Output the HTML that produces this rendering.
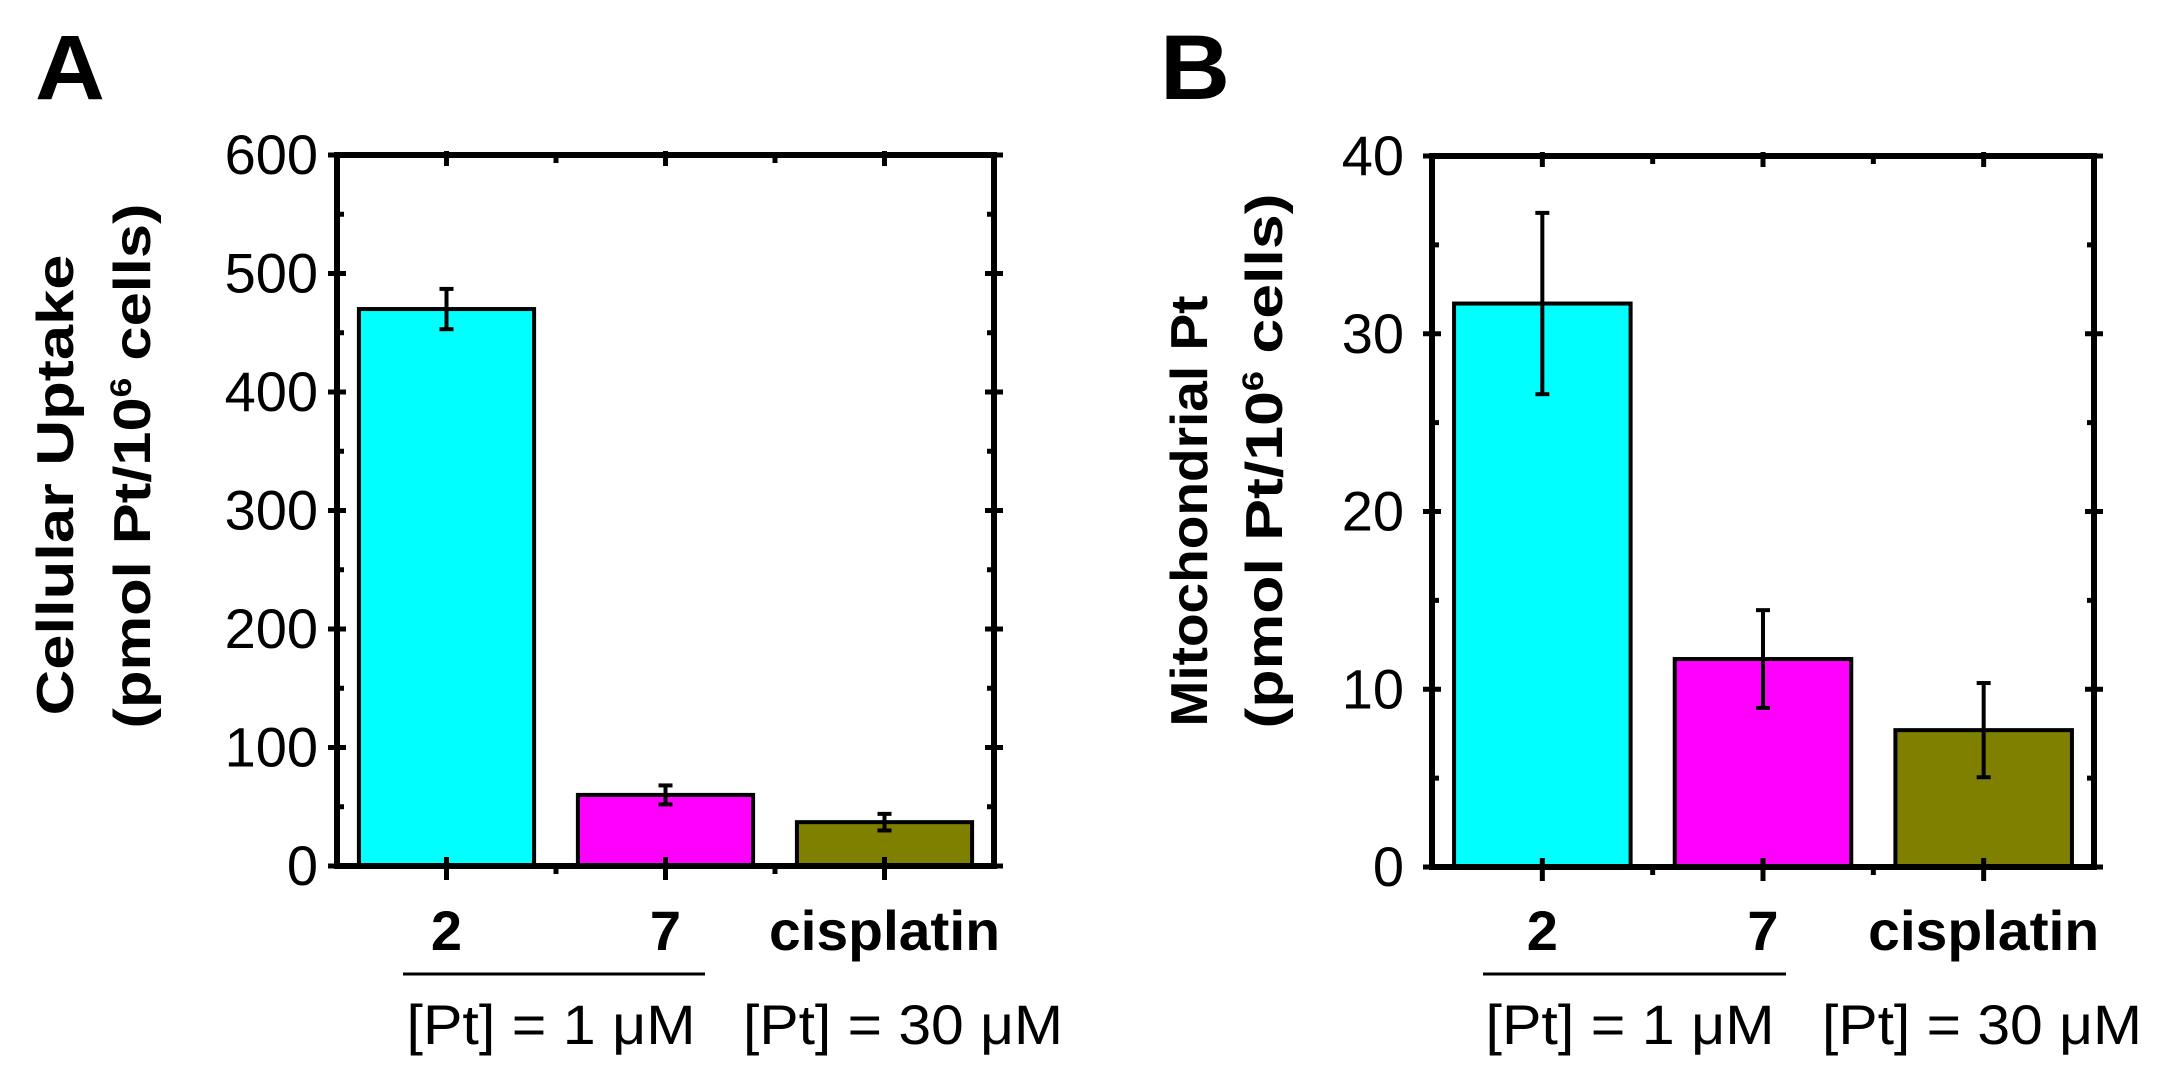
<!DOCTYPE html>
<html><head><meta charset="utf-8"><style>
html,body{margin:0;padding:0;background:#fff;}
svg{display:block;font-family:"Liberation Sans",Arial,sans-serif;}
</style></head><body>
<svg id="fig" width="2158" height="1083" viewBox="0 0 2158 1083"></svg>
<script>
const categories = ["2", "7", "cisplatin"];
const colors = ["#00ffff", "#ff00ff", "#808000"];
const uptakeValues = [470, 60, 37];
const uptakeErrors = [17, 8, 7];
const uptakeTicks = [0, 100, 200, 300, 400, 500, 600];
const mitoValues = [31.7, 11.7, 7.7];
const mitoErrors = [5.1, 2.75, 2.65];
const mitoTicks = [0, 10, 20, 30, 40];

const NS = "http://www.w3.org/2000/svg";
const svg = document.getElementById("fig");
function mk(tag, attrs, parent, text) {
  const e = document.createElementNS(NS, tag);
  for (const k in attrs) e.setAttribute(k, attrs[k]);
  if (text !== undefined) e.textContent = text;
  (parent || svg).appendChild(e);
  return e;
}

function panel(cfg) {
  const g = mk("g", {});
  
  
  const L = cfg.left, R = cfg.right, T = cfg.top, B = cfg.bottom;
  const ymax = cfg.ticks[cfg.ticks.length - 1];
  const y = v => B - (v / ymax) * (B - T);
  const slot = (R - L) / 3;
  const xc = i => L + slot * (i + 0.5);
  const bw = slot * 0.8;

  const letter = mk("text", {x: cfg.letterX, y: 99, "font-size": 92, "font-weight": "bold", textLength: 70, lengthAdjust: "spacingAndGlyphs"}, g, cfg.letter);
  
  

  categories.forEach((c, i) => {
    const v = cfg.values[i];
    const r = mk("rect", {x: xc(i) - bw / 2, y: y(v), width: bw, height: B - y(v), fill: colors[i], stroke: "#000", "stroke-width": 4}, g);
    
    
    const e = cfg.errors[i];
    const eg = mk("g", {stroke: "#000", "stroke-width": 4}, g);
    
    
    mk("line", {x1: xc(i), x2: xc(i), y1: y(v + e), y2: y(v - e)}, eg);
    mk("line", {x1: xc(i) - 7, x2: xc(i) + 7, y1: y(v + e), y2: y(v + e)}, eg);
    mk("line", {x1: xc(i) - 7, x2: xc(i) + 7, y1: y(v - e), y2: y(v - e)}, eg);
  });

  const f = mk("rect", {x: L, y: T, width: R - L, height: B - T, fill: "none", stroke: "#000", "stroke-width": 6}, g);
  
  

  const tg = mk("g", {stroke: "#000", "stroke-width": 5}, g);
  
  
  const step = cfg.ticks[1] - cfg.ticks[0];
  for (let k = 0; k < cfg.ticks.length; k++) {
    const v = cfg.ticks[k];
    mk("line", {x1: L - 9, x2: L + 9, y1: y(v), y2: y(v)}, tg);
    mk("line", {x1: R - 9, x2: R + 9, y1: y(v), y2: y(v)}, tg);
    if (k < cfg.ticks.length - 1) {
      const m = v + step / 2;
      mk("line", {x1: L, x2: L + 7, y1: y(m), y2: y(m)}, tg);
      mk("line", {x1: R - 7, x2: R, y1: y(m), y2: y(m)}, tg);
    }
    const t = mk("text", {x: cfg.labelRight, y: y(v) + 19, "font-size": 56, "text-anchor": "end", stroke: "none"}, g, String(v));
    
    
  }
  for (let i = 0; i < 3; i++) {
    mk("line", {x1: xc(i), x2: xc(i), y1: B - 9, y2: B + 14}, tg);
    mk("line", {x1: xc(i), x2: xc(i), y1: T - 4, y2: T + 11}, tg);
    if (i < 2) {
      mk("line", {x1: L + slot * (i + 1), x2: L + slot * (i + 1), y1: B, y2: B + 8}, tg);
      mk("line", {x1: L + slot * (i + 1), x2: L + slot * (i + 1), y1: T, y2: T + 8}, tg);
    }
    const attrs = {x: xc(i), y: 950, "font-size": 56, "font-weight": "bold", "text-anchor": "middle"};
    if (i === 2) { attrs.textLength = 231; attrs.lengthAdjust = "spacingAndGlyphs"; }
    const t = mk("text", attrs, g, categories[i]);
    
    
  }
  const ln = mk("line", {x1: cfg.lineX1, x2: cfg.lineX2, y1: 974, y2: 974, stroke: "#000", "stroke-width": 3}, g);
  
  
  const c1 = mk("text", {x: cfg.c1x, y: 1044, "font-size": 56, "text-anchor": "middle", textLength: 289, lengthAdjust: "spacingAndGlyphs"}, g, "[Pt] = 1 μM");
  
  
  const c2 = mk("text", {x: cfg.c2x, y: 1044, "font-size": 56, "text-anchor": "middle", textLength: 320, lengthAdjust: "spacingAndGlyphs"}, g, "[Pt] = 30 μM");
  
  

  const yt = mk("text", {transform: `translate(${cfg.titleX1},${cfg.titleY1}) rotate(-90)`, "font-size": 52, "font-weight": "bold", "text-anchor": "middle", textLength: cfg.len1, lengthAdjust: "spacingAndGlyphs"}, g, cfg.title1);
  
  
  const yt2 = mk("text", {transform: `translate(${cfg.titleX2},${cfg.titleY2}) rotate(-90)`, "font-size": 52, "font-weight": "bold", "text-anchor": "middle", textLength: cfg.len2, lengthAdjust: "spacingAndGlyphs"}, g);
  
  
  mk("tspan", {}, yt2, "(pmol Pt/10");
  mk("tspan", {"font-size": 30, dy: -19}, yt2, "6");
  mk("tspan", {dy: 19}, yt2, " cells)");
}

panel({name: "panel-a-cellular-uptake", letter: "A", letterX: 35, left: 337, right: 994, top: 155, bottom: 866,
  ticks: uptakeTicks, values: uptakeValues, errors: uptakeErrors, labelRight: 318,
  lineX1: 403, lineX2: 705, c1x: 551, c2x: 903,
  titleX1: 73, titleY1: 485, len1: 461, titleX2: 150, titleY2: 466, len2: 525, title1: "Cellular Uptake"});
panel({name: "panel-b-mitochondrial-pt", letter: "B", letterX: 1160, left: 1432, right: 2094, top: 156, bottom: 867,
  ticks: mitoTicks, values: mitoValues, errors: mitoErrors, labelRight: 1404,
  lineX1: 1483, lineX2: 1786, c1x: 1630, c2x: 1982,
  titleX1: 1207, titleY1: 511, len1: 431, titleX2: 1282, titleY2: 461, len2: 535, title1: "Mitochondrial Pt"});
</script>
</body></html>
